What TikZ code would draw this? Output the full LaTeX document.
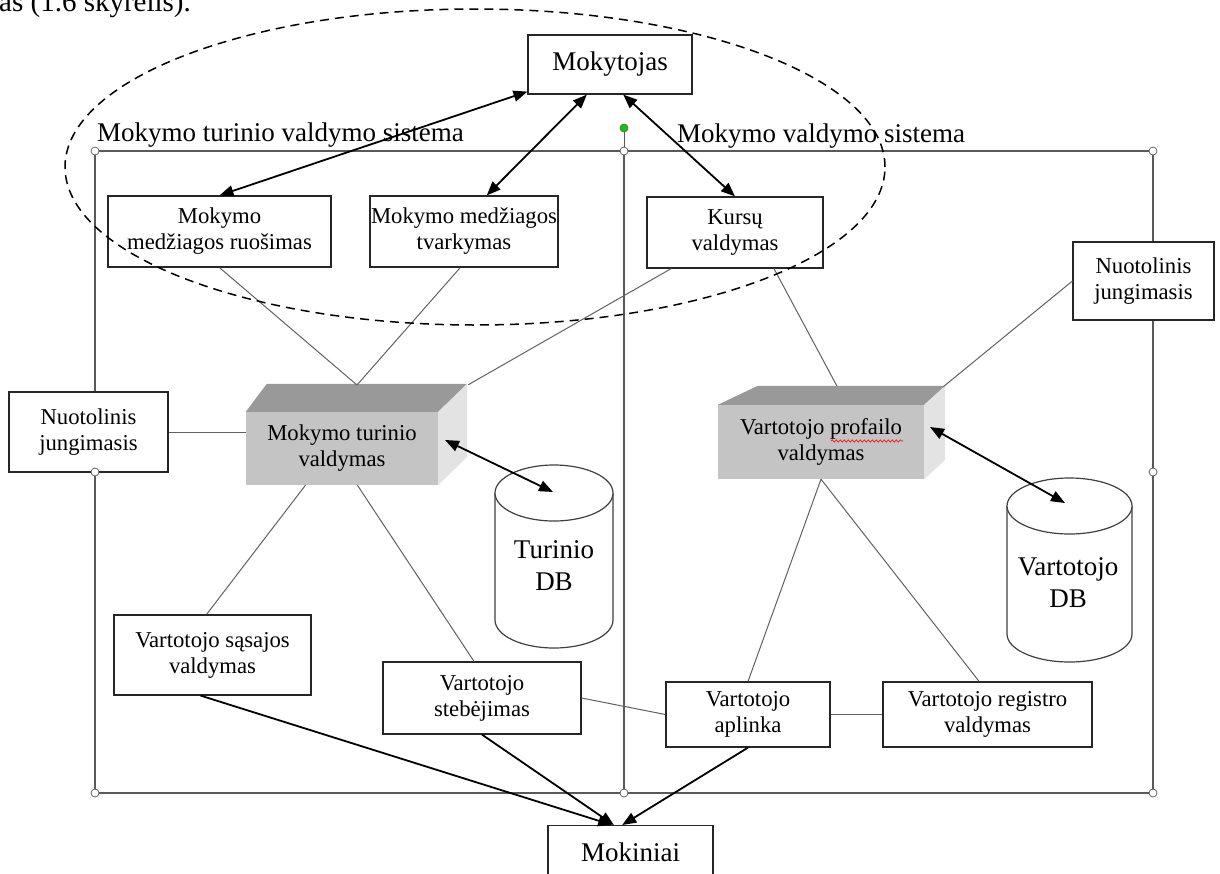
\documentclass[tikz,border=0pt]{standalone}
\usepackage{fontspec}
\setmainfont{Liberation Serif}
\usetikzlibrary{arrows.meta,calc,decorations.pathmorphing}
\newcommand\txtsmall{\fontsize{22.7}{26}\selectfont}
\newcommand\txtbig{\fontsize{27}{32}\selectfont}
\definecolor{framegray}{gray}{0.35}
\definecolor{wiregray}{gray}{0.38}
\definecolor{cubefront}{gray}{0.77}
\definecolor{cubetop}{gray}{0.6}
\definecolor{cubeside}{gray}{0.89}
\definecolor{handlegreen}{RGB}{0,210,0}

\begin{document}
\begin{tikzpicture}[x=1pt,y=-1pt,
  box/.style={draw=black!85,line width=1.2pt,fill=white,inner sep=0pt,align=center,font=\txtsmall},
  bigbox/.style={box,font=\txtbig},
  cubeface/.style={inner sep=0pt,align=center,font=\txtsmall,fill=cubefront},
  wireline/.style={draw=wiregray,line width=1pt},
  frameline/.style={draw=framegray,line width=1.5pt},
  twoway/.style={line width=1.8pt,{Triangle[length=14pt,width=11pt]}-{Triangle[length=14pt,width=11pt]}},
  oneway/.style={line width=1.8pt,-{Triangle[length=14pt,width=11pt]}},
  selhandle/.style={circle,draw=black!60,fill=white,line width=0.8pt,inner sep=0pt,minimum size=8pt},
  db/.style={draw=black!75,line width=1.2pt,fill=white},
  syslabel/.style={font=\txtbig,inner sep=0pt}
]
\useasboundingbox (0,0) rectangle (1220,873);

% running text above the figure
\node[anchor=base west,font=\fontsize{29}{32}\selectfont,inner sep=0pt] (heading) at (-1,11) {as (1.6 skyrelis).};

% system frame with its divider
\coordinate (fTL) at (95,151);
\coordinate (fTM) at (624,151);
\coordinate (fTR) at (1153,151);
\coordinate (fML) at (95,472);
\coordinate (fMR) at (1153,472);
\coordinate (fBL) at (95,793);
\coordinate (fBM) at (624,793);
\coordinate (fBR) at (1153,793);
\coordinate (rot) at (624,128);
\draw[frameline] (fTL) rectangle (fBR);
\draw[frameline] (fTM) -- (fBM);
\draw[draw=framegray,line width=1pt] (rot) -- (fTM);

\node[syslabel,anchor=base west] (lmtvs) at (97,141) {Mokymo turinio valdymo sistema};
\node[syslabel,anchor=base west] (lmvs) at (677,142) {Mokymo valdymo sistema};

% boxes
\node[bigbox,minimum width=164pt,minimum height=59pt] (mokytojas) at (610,64.5) {Mokytojas};
\node[box,minimum width=223pt,minimum height=71pt] (ruosimas) at (219.5,231.5) {Mokymo\\medžiagos ruošimas};
\node[box,minimum width=188pt,minimum height=71pt] (tvarkymas) at (464,231.5) {Mokymo medžiagos\\tvarkymas};
\node[box,minimum width=176pt,minimum height=71pt] (kursu) at (735,232.5) {Kursų\\valdymas};
\node[box,minimum width=159pt,minimum height=80pt] (nuotL) at (88.5,432) {Nuotolinis\\jungimasis};
\node[box,minimum width=141pt,minimum height=78pt] (nuotR) at (1143.5,281) {Nuotolinis\\jungimasis};
\node[box,minimum width=197pt,minimum height=80pt] (sasajos) at (212.5,655) {Vartotojo sąsajos\\valdymas};
\node[box,minimum width=198pt,minimum height=72pt] (stebejimas) at (482,698) {Vartotojo\\stebėjimas};
\node[box,minimum width=164pt,minimum height=65pt] (aplinka) at (748,714.5) {Vartotojo\\aplinka};
\node[box,minimum width=209pt,minimum height=65pt] (registro) at (987.5,714.5) {Vartotojo registro\\valdymas};
\node[bigbox,minimum width=165pt,minimum height=54pt,anchor=north] (mokiniai) at (630.5,825) {Mokiniai};

% 3D blocks
\node[cubeface,minimum width=192pt,minimum height=73pt] (cubeA) at (342,448.5) {Mokymo turinio\\valdymas};
\fill[cubetop] (cubeA.north west) -- ++(21,-28) -- ($(cubeA.north east)+(29,-28)$) -- (cubeA.north east) -- cycle;
\fill[cubeside] (cubeA.north east) -- ++(29,-28) -- ++(0,73) -- (cubeA.south east) -- cycle;

\node[cubeface,minimum width=206pt,minimum height=74pt] (cubeB) at (821,442) {Vartotojo profailo\\valdymas};
\fill[cubetop] (cubeB.north west) -- ++(40,-19) -- ($(cubeB.north east)+(21,-19)$) -- (cubeB.north east) -- cycle;
\fill[cubeside] (cubeB.north east) -- ++(21,-19) -- ++(0,74) -- (cubeB.south east) -- cycle;
\draw[red,line width=0.6pt,decorate,decoration={snake,amplitude=1.2pt,segment length=4pt}] (831,441) -- (903,441);

% plain connectors
\coordinate (cAtop) at (357,385);
\draw[wireline] (ruosimas.south) -- (cAtop);
\draw[wireline] ($(tvarkymas.south west)!0.48!(tvarkymas.south east)$) -- (cAtop);
\draw[wireline] ($(kursu.south west)!0.14!(kursu.south east)$) -- ($(cubeA.north east)+(30,-27)$);
\draw[wireline] ($(kursu.south west)!0.72!(kursu.south east)$) -- ($(cubeB.north west)+(119,-19)$);
\draw[wireline] (nuotR.west) -- ($(cubeB.north east)+(19,-18)$);
\draw[wireline] (nuotL.east) -- (nuotL.east -| cubeA.west);
\draw[wireline] ($(cubeA.south west)!0.31!(cubeA.south east)$) -- ($(sasajos.north west)!0.47!(sasajos.north east)$);
\draw[wireline] ($(cubeA.south west)!0.58!(cubeA.south east)$) -- ($(stebejimas.north west)!0.46!(stebejimas.north east)$);
\draw[wireline] (cubeB.south) -- (aplinka.north);
\draw[wireline] (cubeB.south) -- ($(registro.north west)!0.46!(registro.north east)$);
\draw[wireline] (stebejimas.east) -- (aplinka.west);
\draw[wireline] (aplinka.east) -- (registro.west);

% databases
\draw[db] (495,493) -- (495,620) arc[start angle=180,end angle=360,x radius=59pt,y radius=28pt] -- (613,493);
\draw[db] (554,493) ellipse[x radius=59pt,y radius=28pt];
\node[font=\txtbig,align=center,inner sep=0pt] (dbA) at (554,566) {Turinio\\DB};

\draw[db] (1007,506) -- (1007,634) arc[start angle=180,end angle=360,x radius=62.5pt,y radius=28pt] -- (1132,506);
\draw[db] (1069.5,506) ellipse[x radius=62.5pt,y radius=28pt];
\node[font=\txtbig,align=center,inner sep=0pt] (dbB) at (1068,583) {Vartotojo\\DB};

% arrows
\draw[twoway] ($(mokytojas.south west)+(0,-3)$) -- (ruosimas.north);
\draw[twoway] ($(mokytojas.south west)!0.36!(mokytojas.south east)$) -- ($(tvarkymas.north west)!0.62!(tvarkymas.north east)$);
\draw[twoway] ($(mokytojas.south west)!0.58!(mokytojas.south east)$) -- (kursu.north);
\coordinate (cubeAtip) at (445,440);
\coordinate (dbAtip) at (553,492);
\coordinate (cubeBtip) at (930,427);
\coordinate (dbBtip) at (1065,503);
\draw[twoway] (cubeAtip) -- (dbAtip);
\draw[twoway] (cubeBtip) -- (dbBtip);
\draw[oneway] ($(sasajos.south west)!0.44!(sasajos.south east)$) -- ($(mokiniai.north west)!0.39!(mokiniai.north east)$);
\draw[oneway] (stebejimas.south) -- ($(mokiniai.north west)!0.40!(mokiniai.north east)$);
\draw[oneway] (aplinka.south) -- ($(mokiniai.north west)!0.45!(mokiniai.north east)$);

% selection handles
\node[selhandle] (h1) at (fTL) {};
\node[selhandle] (h2) at (fTM) {};
\node[selhandle] (h3) at (fTR) {};
\node[selhandle] (h4) at (fML) {};
\node[selhandle] (h5) at (fMR) {};
\node[selhandle] (h6) at (fBL) {};
\node[selhandle] (h7) at (fBM) {};
\node[selhandle] (h8) at (fBR) {};
\node[selhandle,fill=handlegreen] (h9) at (rot) {};

% dashed grouping oval
\draw[line width=1.5pt,dash pattern=on 9pt off 6pt] (475,167) ellipse[x radius=410pt,y radius=158pt];
\end{tikzpicture}
\end{document}
